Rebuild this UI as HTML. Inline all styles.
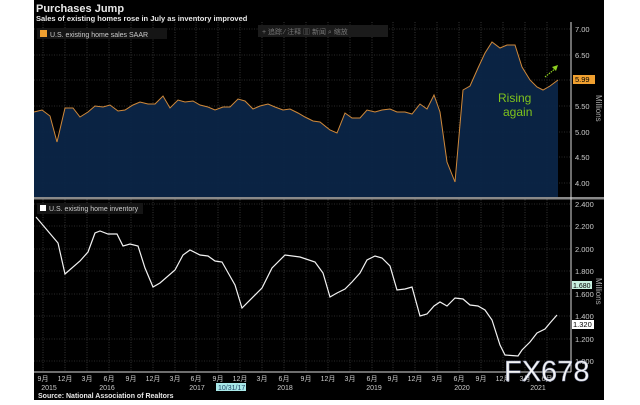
<!DOCTYPE html><html><head><meta charset="utf-8"><style>
body{margin:0;background:#fff;width:640px;height:400px;overflow:hidden;font-family:"Liberation Sans","Noto Sans CJK SC",sans-serif}
</style></head><body>
<svg width="640" height="400" viewBox="0 0 640 400" xmlns="http://www.w3.org/2000/svg" font-family="Liberation Sans, Noto Sans CJK SC, sans-serif">
<rect x="34" y="0" width="570" height="400" fill="#000"/>
<text x="36" y="12" fill="#e8e8e8" font-size="11" font-weight="bold">Purchases Jump</text>
<text x="36" y="21" fill="#e8e8e8" font-size="7.5" font-weight="bold">Sales of existing homes rose in July as inventory improved</text>
<g stroke="#555" stroke-width="0.6" stroke-dasharray="1,1.5">
<line x1="34" y1="29" x2="571" y2="29"/><line x1="34" y1="55" x2="571" y2="55"/><line x1="34" y1="80" x2="571" y2="80"/><line x1="34" y1="106" x2="571" y2="106"/><line x1="34" y1="132" x2="571" y2="132"/><line x1="34" y1="157" x2="571" y2="157"/><line x1="34" y1="183" x2="571" y2="183"/>
<line x1="34" y1="204" x2="571" y2="204"/><line x1="34" y1="226" x2="571" y2="226"/><line x1="34" y1="249" x2="571" y2="249"/><line x1="34" y1="271" x2="571" y2="271"/><line x1="34" y1="294" x2="571" y2="294"/><line x1="34" y1="316" x2="571" y2="316"/><line x1="34" y1="339" x2="571" y2="339"/><line x1="34" y1="361" x2="571" y2="361"/>
</g>
<g stroke="#555" stroke-width="0.6" stroke-dasharray="1,1.5">
<line x1="43" y1="22" x2="43" y2="372"/><line x1="65" y1="22" x2="65" y2="372"/><line x1="87" y1="22" x2="87" y2="372"/><line x1="109" y1="22" x2="109" y2="372"/><line x1="131" y1="22" x2="131" y2="372"/><line x1="153" y1="22" x2="153" y2="372"/><line x1="175" y1="22" x2="175" y2="372"/><line x1="196" y1="22" x2="196" y2="372"/><line x1="218" y1="22" x2="218" y2="372"/><line x1="240" y1="22" x2="240" y2="372"/><line x1="262" y1="22" x2="262" y2="372"/><line x1="284" y1="22" x2="284" y2="372"/><line x1="306" y1="22" x2="306" y2="372"/><line x1="328" y1="22" x2="328" y2="372"/><line x1="350" y1="22" x2="350" y2="372"/><line x1="372" y1="22" x2="372" y2="372"/><line x1="393" y1="22" x2="393" y2="372"/><line x1="415" y1="22" x2="415" y2="372"/><line x1="437" y1="22" x2="437" y2="372"/><line x1="459" y1="22" x2="459" y2="372"/><line x1="481" y1="22" x2="481" y2="372"/><line x1="503" y1="22" x2="503" y2="372"/><line x1="525" y1="22" x2="525" y2="372"/><line x1="547" y1="22" x2="547" y2="372"/>
</g>
<polygon fill="#0b2547" fill-opacity="0.95" points="34,197 34,112 42,110 50,116 57,142 65,108 73,108 80,117 88,112 95,106 103,107 110,105 118,111 125,110 133,105 140,102 148,104 155,104 163,96 170,108 178,100 185,102 193,101 200,105 208,107 215,110 223,107 230,107 238,99 245,101 253,109 260,106 268,104 275,107 283,110 290,109 298,113 305,117 313,121 320,122 330,130 337,133 345,113 352,118 360,118 367,110 375,112 382,110 390,109 397,112 405,112 412,114 420,104 427,109 434,95 440,112 447,162 455,182 463,90 470,86 478,68 485,53 492,42 500,48 507,45 515,45 522,67 530,80 537,87 543,90 550,86 558,80 558,197"/>
<polyline fill="none" stroke="#d0893a" stroke-width="1" points="34,112 42,110 50,116 57,142 65,108 73,108 80,117 88,112 95,106 103,107 110,105 118,111 125,110 133,105 140,102 148,104 155,104 163,96 170,108 178,100 185,102 193,101 200,105 208,107 215,110 223,107 230,107 238,99 245,101 253,109 260,106 268,104 275,107 283,110 290,109 298,113 305,117 313,121 320,122 330,130 337,133 345,113 352,118 360,118 367,110 375,112 382,110 390,109 397,112 405,112 412,114 420,104 427,109 434,95 440,112 447,162 455,182 463,90 470,86 478,68 485,53 492,42 500,48 507,45 515,45 522,67 530,80 537,87 543,90 550,86 558,80"/>
<rect x="34" y="197" width="570" height="2.5" fill="#8a8a8a"/>
<polyline fill="none" stroke="#f2f2f2" stroke-width="1.2" points="36,217 58,243 65,274 80,261 88,252 95,233 100,231 108,234 117,234 123,246 130,244 138,246 145,268 153,287 160,283 175,270 183,255 190,250 200,255 208,256 215,261 222,262 235,285 242,308 262,288 272,268 285,255 300,257 315,262 323,273 330,297 337,293 345,289 352,282 360,273 367,260 375,256 382,258 390,266 397,290 405,289 412,287 420,316 427,314 434,306 440,302 447,306 455,298 463,299 470,305 478,306 485,310 492,320 500,345 505,355 518,356 522,350 530,342 537,333 545,329 550,323 557,315"/>
<rect x="37" y="28" width="130" height="11" fill="#151515"/>
<rect x="40" y="30" width="7" height="7" fill="#f0a030"/>
<text x="50" y="37" fill="#ccc" font-size="7">U.S. existing home sales SAAR</text>
<rect x="258" y="25" width="130" height="12" fill="#1b1b1b"/>
<text x="262" y="34" fill="#777" font-size="7">+ 追踪  ⁄ 注释  ▥ 新闻  ⌕ 缩放</text>
<rect x="37" y="203" width="106" height="11" fill="#151515"/>
<rect x="40" y="205" width="6" height="6" fill="#fff"/>
<text x="49" y="211" fill="#ccc" font-size="7">U.S. existing home inventory</text>
<text x="498" y="102" fill="#7fc31c" font-size="12">Rising</text>
<text x="503" y="116" fill="#7fc31c" font-size="12">again</text>
<line x1="545" y1="77" x2="556" y2="68" stroke="#8fd020" stroke-width="1.2" stroke-dasharray="1.5,1"/>
<polygon points="558,65 552,67 556,71" fill="#8fd020"/>
<line x1="571" y1="22" x2="571" y2="372" stroke="#ddd" stroke-width="1"/>
<g fill="#ccc" font-size="7.5">
<text x="575" y="32">7.00</text><text x="575" y="58">6.50</text><text x="575" y="109">5.50</text><text x="575" y="135">5.00</text><text x="575" y="160">4.50</text><text x="575" y="186">4.00</text>
<text x="575" y="207">2.400</text><text x="575" y="229">2.200</text><text x="575" y="252">2.000</text><text x="575" y="274">1.800</text><text x="575" y="297">1.600</text><text x="575" y="319">1.400</text><text x="575" y="342">1.200</text><text x="575" y="364">1.000</text>
</g>
<rect x="573" y="75" width="22" height="9" fill="#f0a030"/><text x="575" y="82" fill="#000" font-size="7.5">5.99</text>
<rect x="572" y="281" width="20" height="8" fill="#c8f0e0"/><text x="573" y="288" fill="#000" font-size="7">1.680</text>
<rect x="572" y="320" width="22" height="9" fill="#fff"/><text x="573" y="327" fill="#000" font-size="7.5">1.320</text>
<text transform="translate(596,95) rotate(90)" fill="#aaa" font-size="8">Millions</text>
<text transform="translate(596,278) rotate(90)" fill="#aaa" font-size="8">Millions</text>
<line x1="34" y1="372" x2="571" y2="372" stroke="#ddd"/>
<g fill="#ccc" font-size="7" text-anchor="middle">
<text x="43" y="381">9月</text><text x="65" y="381">12月</text><text x="87" y="381">3月</text><text x="109" y="381">6月</text><text x="131" y="381">9月</text><text x="153" y="381">12月</text><text x="175" y="381">3月</text><text x="196" y="381">6月</text><text x="218" y="381">9月</text><text x="240" y="381">12月</text><text x="262" y="381">3月</text><text x="284" y="381">6月</text><text x="306" y="381">9月</text><text x="328" y="381">12月</text><text x="350" y="381">3月</text><text x="372" y="381">6月</text><text x="393" y="381">9月</text><text x="415" y="381">12月</text><text x="437" y="381">3月</text><text x="459" y="381">6月</text><text x="481" y="381">9月</text><text x="503" y="381">12月</text><text x="525" y="381">3月</text><text x="547" y="381">6月</text>
<text x="49" y="390">2015</text><text x="107" y="390">2016</text><text x="197" y="390">2017</text><text x="285" y="390">2018</text><text x="374" y="390">2019</text><text x="462" y="390">2020</text><text x="538" y="390">2021</text>
</g>
<rect x="216" y="383" width="30" height="8" fill="#a8e8e8"/><text x="218" y="390" fill="#246" font-size="7">10/31/17</text>
<text x="38" y="398" fill="#e8e8e8" font-size="7" font-weight="bold">Source: National Association of Realtors</text>
<text x="504" y="381" fill="#f4f4f4" stroke="#8890b0" stroke-width="0.5" font-size="29">FX678</text>
</svg>
</body></html>
